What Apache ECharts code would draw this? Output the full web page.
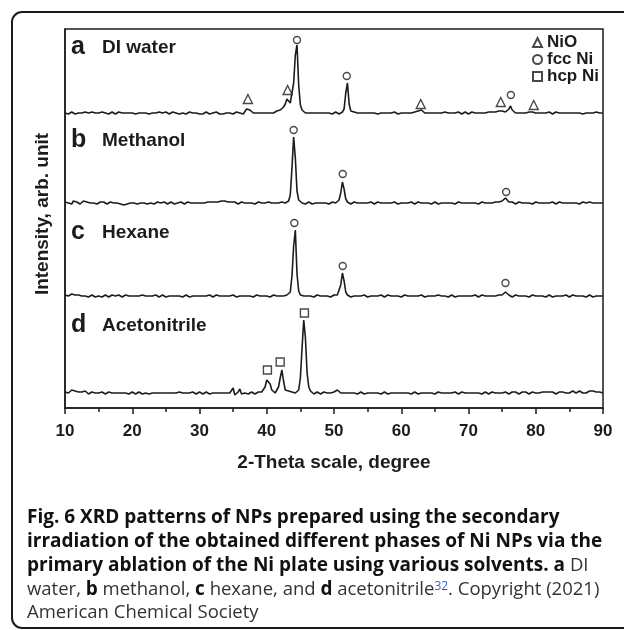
<!DOCTYPE html>
<html><head><meta charset="utf-8">
<script src="https://cdn.jsdelivr.net/npm/echarts@6/dist/echarts.min.js"></script>
<style>html,body{margin:0;padding:0;background:#fff}#c{width:624px;height:630px}</style>
</head><body><div id="c"></div>
<script>
// ---------- data ----------
const thetaStart = 10, thetaStep = 0.25;           // 2-theta sampling grid (degrees)
const panelLetters = ['a','b','c','d'];
const sampleNames = ['DI water','Methanol','Hexane','Acetonitrile'];
const stackOffsets = [295,205,112,15];              // vertical stacking of the patterns (arb.)
const xTickValues = [10,20,30,40,50,60,70,80,90];

// intensities above each pattern's own baseline, 10..90 deg step 0.25
const intensityDIWater = [
 0,1,-1,0,1,0,-1,1,0,-1,0,1,1,-1,0,0,1,-1,0,1,
 0,-1,1,0,0,1,-1,0,1,0,-1,0,1,-1,0,1,0,-1,0,1,
 0,0,-1,1,0,-1,0,1,0,0,-1,1,0,-1,0,0,1,-1,0,0,
 1,0,-1,0,1,-1,0,0,-1,1,0,-1,-1,0,1,-1,0,-1,0,1,
 -1,0,-1,0,1,-1,-1,0,0,-1,1,0,-1,0,-1,1,0,-1,0,0,
 -1,0,1,-1,0,0,-1,1,4,6,3,1,0,-1,0,1,0,-1,0,1,
 0,1,0,1,0,1,2,2,3,4,6,9,14,15,10,12,30,58,68,28,
 8,3,1,0,1,0,-1,0,1,0,-1,0,1,0,-1,0,1,0,0,-1,
 0,1,0,-1,0,1,4,20,30,9,2,0,1,-1,0,1,0,-1,0,1,
 0,-1,0,1,0,0,-1,1,0,-1,0,1,0,-1,0,0,1,0,-1,0,
 0,1,0,-1,0,1,0,0,1,1,2,4,3,1,0,-1,0,1,0,-1,
 0,1,0,-1,0,0,1,-1,0,1,0,-1,0,0,1,0,-1,0,1,0,
 -1,0,1,0,0,-1,0,1,0,-1,0,0,1,0,1,0,1,1,2,2,
 2,1,1,2,4,7,3,1,0,1,0,-1,0,1,0,0,1,1,1,0,
 0,-1,0,1,0,-1,0,0,1,0,-1,0,1,0,0,-1,0,1,0,-1,
 0,1,0,-1,0,1,0,0,-1,1,0,-1,0,1,0,0,1,-1,0,1,
 0];
const intensityMethanol = [
 1,2,0,1,-1,2,0,1,0,-1,1,2,0,1,-1,0,2,0,1,-1,
 0,1,-1,1,0,-1,0,1,-1,0,-1,0,1,-1,0,-2,0,-1,1,0,
 -1,0,0,-1,1,0,-1,0,1,-1,0,0,1,-1,0,1,0,0,-1,1,
 0,-1,0,1,0,-1,1,0,0,1,0,-1,0,1,0,0,1,0,1,0,
 1,0,1,0,1,1,0,1,2,1,2,1,2,2,1,2,1,1,0,1,
 0,1,0,-1,0,1,0,0,-1,0,1,0,0,-1,0,1,0,0,-1,0,
 0,1,0,0,-1,0,1,0,0,1,0,0,1,2,8,35,66,45,12,3,
 1,0,0,-1,0,1,0,-1,0,0,1,0,-1,0,1,0,0,-1,0,1,
 0,0,1,3,10,21,14,4,1,0,-1,0,1,0,0,-1,0,1,0,-1,
 0,0,1,0,-1,0,1,0,0,-1,0,1,0,-1,0,0,1,0,-1,0,
 0,1,0,-1,0,0,1,0,-1,0,1,0,0,-1,0,1,0,0,-1,0,
 1,0,-1,0,0,1,0,-1,0,1,0,0,-1,0,1,0,0,-1,0,1,
 0,-1,0,1,0,0,-1,0,1,0,0,-1,0,1,0,0,1,0,1,1,
 2,3,5,3,1,0,1,0,-1,0,1,0,0,-1,0,1,0,0,-1,0,
 1,0,0,-1,0,1,0,-1,0,0,1,0,-1,0,1,0,0,-1,0,1,
 0,-1,0,1,0,0,-1,0,1,0,0,-1,1,0,0,1,0,-1,0,0,
 0];
const intensityHexane = [
 1,2,0,1,2,0,1,-1,1,2,0,1,0,1,-1,0,1,0,-1,0,
 0,1,-1,0,1,0,-1,0,1,0,0,-1,1,0,-1,0,1,0,0,-1,
 0,1,0,-1,0,0,1,-1,0,1,0,-1,0,0,1,0,-1,0,1,0,
 -1,0,0,1,0,-1,0,1,0,0,-1,0,1,0,-1,0,0,1,0,-1,
 0,1,0,-1,0,0,1,0,-1,0,1,0,0,-1,0,1,0,-1,0,0,
 1,0,-1,0,0,1,0,-1,0,1,0,0,-1,0,1,0,0,-1,0,1,
 0,0,-1,0,1,0,0,-1,0,1,0,0,1,1,4,20,50,66,22,5,
 1,0,0,-1,0,1,0,0,-1,0,1,0,0,-1,0,1,0,0,-1,0,
 1,0,1,3,11,23,15,4,1,0,-1,0,0,1,0,-1,0,0,1,0,
 -1,0,0,1,0,-1,0,0,1,0,-1,0,1,0,0,-1,0,1,0,0,
 -1,0,1,0,0,-1,0,1,0,-1,0,0,1,0,-1,0,0,1,0,-1,
 0,0,1,-1,0,1,0,0,-1,0,1,0,-1,0,0,1,0,-1,0,1,
 0,-1,0,0,1,0,-1,0,1,0,0,-1,0,1,0,-1,0,0,1,0,
 1,2,4,2,1,0,-1,0,1,0,0,-1,0,1,0,0,-1,0,1,0,
 0,-1,0,1,0,0,-1,0,1,0,-1,0,0,1,0,-1,0,0,1,0,
 -1,0,1,0,0,-1,0,1,0,0,-1,0,1,0,-1,0,0,1,0,0,
 0];
const intensityAcetonitrile = [
 1,2,0,1,3,1,2,0,1,-1,1,0,2,1,-1,0,1,-1,0,1,
 0,-1,1,0,-1,0,1,-1,0,1,0,-1,0,1,0,-1,0,1,-1,0,
 1,0,-1,0,1,0,-1,1,0,0,-1,1,0,-1,0,1,0,-1,0,1,
 0,-1,0,1,0,-1,0,0,1,-1,0,1,0,-1,0,0,1,0,-1,0,
 1,0,-1,0,1,0,-1,0,0,1,0,-1,0,1,0,-1,0,1,0,-1,
 5,-2,0,1,4,-1,-2,0,1,-1,0,1,0,-1,0,1,0,1,2,6,
 13,15,9,3,1,0,2,6,15,23,12,3,1,2,4,1,0,0,1,3,
 15,45,73,55,20,6,2,0,-1,0,1,0,-1,0,1,0,0,-1,0,1,
 1,2,3,1,0,-1,0,1,0,-1,0,1,0,0,-1,0,1,0,-1,0,
 0,1,0,-1,0,1,0,0,-1,0,1,0,-1,0,0,1,0,-1,0,1,
 0,-1,0,1,0,0,-1,0,1,0,-1,0,0,1,0,-1,0,1,0,0,
 -1,0,1,0,0,-1,0,1,0,-1,0,0,1,0,-1,0,1,0,0,-1,
 0,1,0,-1,0,1,0,0,-1,0,1,0,-1,0,1,0,0,1,0,1,
 0,1,1,0,-1,0,1,0,1,0,-1,0,1,0,1,0,-1,0,1,1,
 0,1,0,-1,1,0,1,2,1,0,1,0,-1,0,1,0,1,2,0,1,
 0,1,2,1,0,1,2,1,0,-1,0,1,2,1,2,0,1,0,1,0,
 0];
const patterns = [intensityDIWater, intensityMethanol, intensityHexane, intensityAcetonitrile];

// phase markers: [panel index, 2-theta, height above baseline]
const markersNiO  = [[0,37.2,14],[0,43.1,23],[0,62.9,9],[0,74.8,11],[0,79.7,8]];
const markersFcc  = [[0,44.5,73],[0,51.9,37],[0,76.3,18],
                     [1,44.0,73],[1,51.3,29],[1,75.6,11],
                     [2,44.1,73],[2,51.3,30],[2,75.5,13]];
const markersHcp  = [[3,40.1,23],[3,42.0,31],[3,45.6,80]];
const phaseNames  = ['NiO','fcc Ni','hcp Ni'];

// ---------- chart ----------
const INK = '#1c1c1c';
const chart = echarts.init(document.getElementById('c'), null, {renderer:'canvas'});

const lineSeries = patterns.map((arr, p) => ({
  type:'line', name: sampleNames[p], showSymbol:false, symbol:'none',
  data: arr.map((v,i) => [thetaStart + i*thetaStep, v + stackOffsets[p]]),
  lineStyle:{color:INK, width:1.6}, z:2, silent:true
}));

const markerStyle = {color:'#fff', borderColor:INK, borderWidth:1.4};
const toPts = m => m.map(([p,x,h]) => [x, h + stackOffsets[p]]);
const markerSeries = [
  {type:'scatter', name:phaseNames[0], symbol:'triangle', symbolSize:9, data:toPts(markersNiO), itemStyle:markerStyle, z:5},
  {type:'scatter', name:phaseNames[1], symbol:'circle', symbolSize:7, data:toPts(markersFcc), itemStyle:markerStyle, z:5},
  {type:'scatter', name:phaseNames[2], symbol:'rect', symbolSize:8, data:toPts(markersHcp), itemStyle:markerStyle, z:5}
];

const panelLabelY = [47,140,232,325];
const graphics = [
  {type:'rect', shape:{x:12,y:12,width:700,height:616,r:10}, style:{fill:'none', stroke:INK, lineWidth:2}, silent:true, z:-1}
];
panelLetters.forEach((l,i) => {
  graphics.push({type:'text', x:71, y:panelLabelY[i], style:{text:l, font:'bold 25px "Liberation Sans"', fill:INK, verticalAlign:'middle'}});
  graphics.push({type:'text', x:102, y:panelLabelY[i]+1, style:{text:sampleNames[i], font:'bold 19px "Liberation Sans"', fill:INK, verticalAlign:'middle'}});
});
const capRich = {
  b:{fontFamily:'Open Sans', fontWeight:'bold', fontSize:19, fill:'#111'},
  r:{fontFamily:'Open Sans', fontWeight:'normal', fontSize:18.5, fill:'#333'},
  s:{fontFamily:'Open Sans', fontWeight:'normal', fontSize:12, fill:'#3b5bdb', verticalAlign:'top'}
};
const captionLines = [
  '{b|Fig. 6 XRD patterns of NPs prepared using the secondary}',
  '{b|irradiation of the obtained different phases of Ni NPs via the}',
  '{b|primary ablation of the Ni plate using various solvents. a}{r| DI}',
  '{r|water, }{b|b}{r| methanol, }{b|c}{r| hexane, and }{b|d}{r| acetonitrile}{s|32}{r|. Copyright (2021)}',
  '{r|American Chemical Society}'
];
const captionY = [518,542,566,590,613];
captionLines.forEach((t,i) => {
  graphics.push({type:'text', x:27, y:captionY[i], style:{text:t, rich:capRich, verticalAlign:'middle'}});
});

chart.setOption({
  animation:false,
  backgroundColor:'#fff',
  grid:{left:65, right:21, top:29, bottom:222, show:true, borderColor:INK, borderWidth:1.5, backgroundColor:'transparent'},
  legend:{
    data:phaseNames, orient:'vertical', left:532, top:34, padding:0, itemWidth:9, itemHeight:9, itemGap:0,
    textStyle:{fontFamily:'Liberation Sans', fontWeight:'bold', fontSize:17, lineHeight:15, color:INK},
    selectedMode:false
  },
  xAxis:{
    type:'value', min:xTickValues[0], max:xTickValues[xTickValues.length-1], interval:10,
    axisLine:{show:true, lineStyle:{color:INK, width:1.5}},
    axisTick:{show:true, length:6, lineStyle:{color:INK, width:1.5}},
    minorTick:{show:true, splitNumber:2, length:4, lineStyle:{color:INK, width:1.5}},
    splitLine:{show:false},
    axisLabel:{fontFamily:'Liberation Sans', fontWeight:'bold', fontSize:17, color:INK, margin:15},
    name:'2-Theta scale, degree', nameLocation:'middle', nameGap:45,
    nameTextStyle:{fontFamily:'Liberation Sans', fontWeight:'bold', fontSize:19, color:INK}
  },
  yAxis:{
    type:'value', min:0, max:379,
    axisLine:{show:true, lineStyle:{color:INK, width:1.5}},
    axisTick:{show:false}, axisLabel:{show:false}, splitLine:{show:false},
    name:'Intensity, arb. unit', nameLocation:'middle', nameGap:13,
    nameTextStyle:{fontFamily:'Liberation Sans', fontWeight:'bold', fontSize:19, color:INK, padding:[0,0,0,9]}
  },
  graphic:graphics,
  series:[...lineSeries, ...markerSeries]
});
</script>
</body></html>
